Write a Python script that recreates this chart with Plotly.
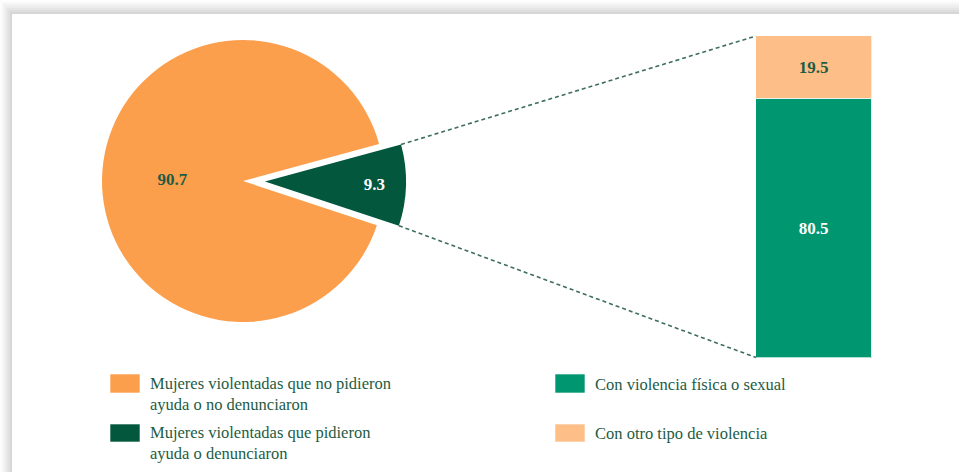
import math
import plotly.graph_objects as go

W, H = 959, 472

# ---- data ----
pie_labels = ["Mujeres violentadas que pidieron<br>ayuda o denunciaron",
              "Mujeres violentadas que no pidieron<br>ayuda o no denunciaron"]
pie_values = [9.3, 90.7]
pie_colors = ["#02573d", "#fb9f4d"]
pie_text_colors = ["#ffffff", "#1d5c44"]

bar_labels = ["Con violencia física o sexual", "Con otro tipo de violencia"]
bar_values = [80.5, 19.5]
bar_colors = ["#009670", "#fdbf87"]
bar_text_colors = ["#ffffff", "#1d5c44"]

TEXT = "#1d5c44"

# ---- geometry (pixels) ----
PIE_CX, PIE_CY, PIE_R = 243, 181, 141
PULL = 0.156
TILT = 1.5  # degrees below horizontal for the pulled slice
BAR_X0, BAR_X1, BAR_Y0, BAR_Y1 = 756, 872, 36, 357.5

half = PIE_R * (1 + PULL)
pie_dom_x = [(PIE_CX - half) / W, (PIE_CX + half) / W]
pie_dom_y = [1 - (PIE_CY + half) / H, 1 - (PIE_CY - half) / H]

slice_angle = pie_values[0] / sum(pie_values) * 360
rotation = 90 + TILT - slice_angle / 2

def px(x):
    return x / W

def py(y):
    return 1 - y / H

fig = go.Figure()

fig.add_trace(go.Pie(
    labels=pie_labels, values=pie_values, sort=False, direction="clockwise",
    rotation=rotation, pull=[PULL, 0],
    marker=dict(colors=pie_colors, line=dict(width=0)),
    textinfo="value", texttemplate="%{value:.1f}", textposition="inside",
    insidetextorientation="horizontal",
    insidetextfont=dict(family="Liberation Serif", size=17, color=pie_text_colors, weight="bold"),
    domain=dict(x=pie_dom_x, y=pie_dom_y), showlegend=False, hoverinfo="label+value",
))

for name, val, col, tcol in zip(bar_labels, bar_values, bar_colors, bar_text_colors):
    fig.add_trace(go.Bar(
        x=[0], y=[val], name=name, width=[1],
        marker=dict(color=col, line=dict(color="#e8f2ec", width=1)),
        text=[f"{val:.1f}"], textposition="inside", insidetextanchor="middle",
        textfont=dict(family="Liberation Serif", size=17, color=tcol, weight="bold"),
        showlegend=False, xaxis="x", yaxis="y",
    ))

shapes = []
# background shadow
shades = ["#fdfdfd", "#f8f8f8", "#f2f2f2", "#ececec", "#e5e5e5", "#dedede", "#d6d6d6"]
n = len(shades)
for i, c in enumerate(shades):
    t0 = 14 * i / n
    l0 = 12 * i / n
    shapes.append(dict(type="rect", xref="paper", yref="paper", layer="below",
                       x0=px(l0), x1=1, y0=py(H), y1=py(t0), fillcolor=c, line=dict(width=0)))
shapes.append(dict(type="rect", xref="paper", yref="paper", layer="below",
                   x0=px(12), x1=1, y0=0, y1=py(14), fillcolor="#ffffff",
                   line=dict(width=0)))

# connector dashed lines from pulled slice corners to bar
mid = math.radians(-TILT)
ax = PIE_CX + PULL * PIE_R * math.cos(mid)
ay = PIE_CY - PULL * PIE_R * math.sin(mid)
for sgn, by in ((1, BAR_Y0), (-1, BAR_Y1)):
    a = mid + sgn * math.radians(slice_angle / 2)
    cx = ax + PIE_R * math.cos(a)
    cy = ay - PIE_R * math.sin(a)
    shapes.append(dict(type="line", xref="paper", yref="paper",
                       x0=px(cx), y0=py(cy), x1=px(BAR_X0), y1=py(by),
                       line=dict(color="#3f6e5e", width=1.6, dash="4px,3px")))

# manual legend (swatch x, swatch top, swatch bottom, text centre)
legend_items = [
    (pie_labels[1], pie_colors[1], 110, 374, 393, 394),
    (pie_labels[0], pie_colors[0], 110, 424, 442, 443),
    (bar_labels[0], bar_colors[0], 555, 374, 393, 384),
    (bar_labels[1], bar_colors[1], 555, 424, 442, 433),
]
annotations = []
for lab, col, x0, y0, y1, ty in legend_items:
    shapes.append(dict(type="rect", xref="paper", yref="paper",
                       x0=px(x0), x1=px(x0 + 30), y0=py(y1), y1=py(y0),
                       fillcolor=col, line=dict(color="rgba(255,255,255,0.6)", width=1)))
    annotations.append(dict(xref="paper", yref="paper", x=px(x0 + 38), y=py(ty),
                            xanchor="left", yanchor="middle", align="left",
                            text=lab, showarrow=False,
                            font=dict(family="Liberation Serif", size=16.5, color=TEXT)))

fig.update_layout(
    width=W, height=H, margin=dict(l=0, r=0, t=0, b=0),
    paper_bgcolor="#ffffff", plot_bgcolor="rgba(0,0,0,0)",
    barmode="stack", bargap=0,
    xaxis=dict(domain=[px(BAR_X0), px(BAR_X1)], range=[-0.5, 0.5], visible=False, fixedrange=True),
    yaxis=dict(domain=[py(BAR_Y1), py(BAR_Y0)], range=[0, 100], visible=False, fixedrange=True),
    shapes=shapes, annotations=annotations,
    uniformtext=dict(minsize=10),
)

fig.write_html("out.html", config={"displayModeBar": False},
               post_script="document.body.style.margin='0';")
